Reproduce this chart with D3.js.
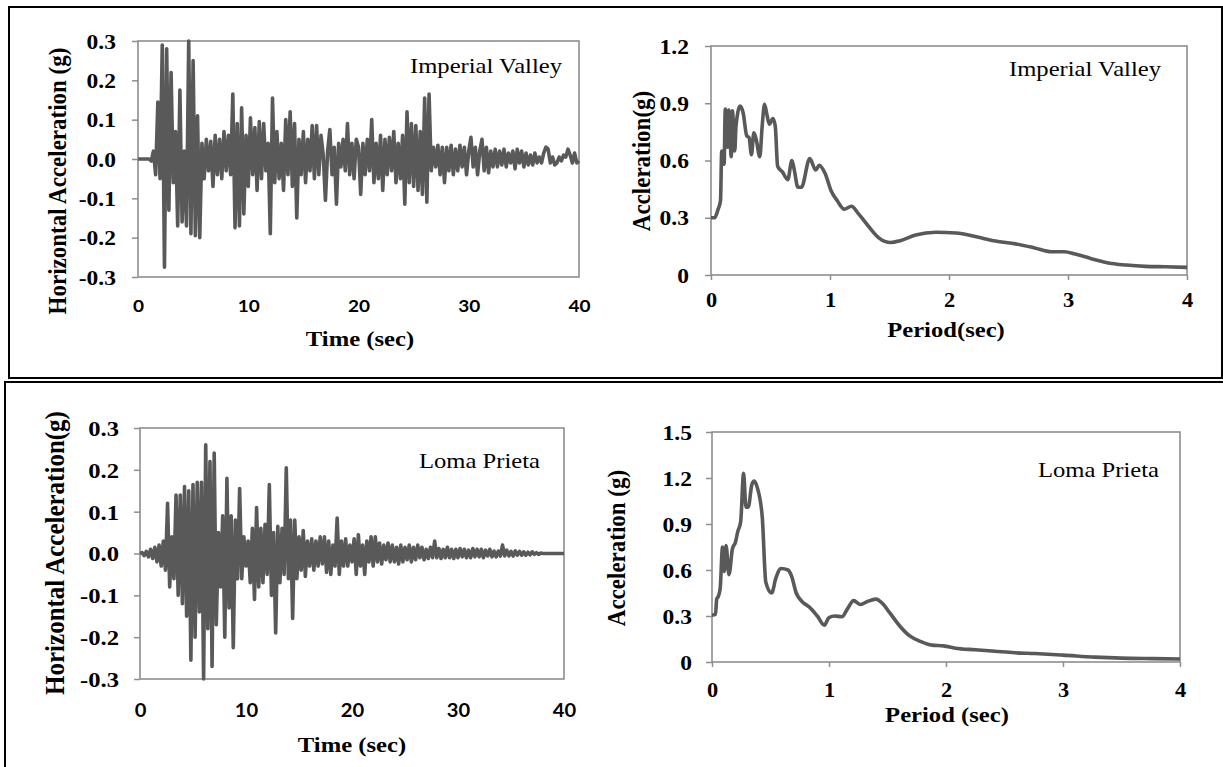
<!DOCTYPE html>
<html>
<head>
<meta charset="utf-8">
<script src="https://cdn.jsdelivr.net/npm/d3@7"></script>
<style>
  body { margin: 0; background: #fff; }
  svg { display: block; }
</style>
</head>
<body>
<svg id="chart" width="1223" height="767"></svg>
<script>
// sampling step of both ground motion records (sec)
const recordStep = 0.2;

// Imperial Valley horizontal acceleration (g), one value per recordStep
const imperialAcc = [
  0, 0, 0, 0, 0, 0, -0.005, 0.02, -0.04, 0.145,
  -0.05, 0.29, -0.275, 0.28, -0.13, 0.22, -0.06, 0.07, -0.17, 0.175,
  -0.16, 0.02, -0.17, 0.30, -0.19, 0.25, -0.195, 0.11, -0.20, 0.04,
  -0.05, 0.05, -0.03, 0.045, -0.07, 0.06, -0.04, 0.05, -0.05, 0.07,
  -0.03, 0.06, -0.04, 0.165, -0.175, 0.09, -0.17, 0.13, -0.14, 0.06,
  -0.07, 0.105, -0.04, 0.08, -0.08, 0.095, -0.05, 0.09, -0.03, 0.04,
  -0.19, 0.155, -0.06, 0.07, -0.05, 0.04, -0.08, 0.10, -0.04, 0.12,
  -0.07, 0.09, -0.15, 0.05, -0.04, 0.07, -0.06, 0.05, -0.03, 0.085,
  -0.05, 0.085, -0.04, 0.06, 0.01, -0.105, 0.02, 0.075, -0.04, 0.03,
  -0.115, 0.04, -0.02, 0.05, -0.03, 0.09, -0.04, 0.04, -0.05, 0.05,
  0.03, -0.09, 0.04, -0.04, 0.05, -0.03, 0.10, -0.06, 0.04, -0.05,
  0.06, -0.08, 0.05, -0.04, 0.055, -0.03, 0.07, -0.06, 0.04, -0.05,
  0.06, -0.115, 0.12, -0.06, 0.09, -0.07, 0.085, -0.08, 0.07, -0.09,
  0.155, -0.11, 0.165, -0.03, 0.03, -0.02, 0.035, -0.04, 0.03, -0.06,
  0.03, -0.03, 0.035, -0.04, 0.025, -0.03, 0.035, -0.02, 0.03, -0.04,
  0.02, 0.055, -0.02, 0.03, -0.04, 0.02, 0.05, -0.03, 0.03, -0.035,
  0.02, -0.02, 0.025, -0.02, 0.02, -0.015, 0.025, -0.02, 0.015, -0.01,
  0.02, -0.025, 0.025, -0.01, 0.02, -0.02, 0.015, -0.015, 0.01, -0.015,
  0.015, -0.01, 0.005, -0.01, 0.015, 0.03, 0.025, -0.01, 0.005, -0.015,
  -0.01, 0.005, -0.005, 0.01, 0.005, 0.025, 0.01, -0.01, 0.015, -0.01,
  -0.005
];

// Loma Prieta horizontal acceleration (g), one value per recordStep
const lomaAcc = [
  0, 0.002, -0.005, 0.005, -0.008, 0.01, -0.012, 0.015, -0.02, 0.02,
  -0.03, 0.03, -0.04, 0.12, -0.08, 0.04, -0.06, 0.14, -0.1, 0.14,
  -0.12, 0.16, -0.15, 0.15, -0.255, 0.165, -0.2, 0.17, -0.14, 0.17,
  -0.30, 0.26, -0.18, 0.22, -0.27, 0.24, -0.17, 0.05, -0.08, 0.09,
  -0.2, 0.18, -0.13, 0.09, -0.225, 0.08, -0.06, 0.155, -0.06, 0.04,
  -0.03, 0.03, -0.07, 0.06, -0.11, 0.11, -0.08, 0.06, -0.07, 0.07,
  -0.05, 0.165, -0.1, 0.05, -0.19, 0.065, -0.07, 0.06, -0.05, 0.205,
  -0.06, 0.08, -0.155, 0.08, -0.06, 0.04, -0.04, 0.055, -0.055, 0.03,
  -0.03, 0.035, -0.04, 0.03, -0.03, 0.04, -0.025, 0.04, -0.045, 0.03,
  -0.05, 0.02, -0.03, 0.085, -0.05, 0.03, -0.03, 0.035, -0.03, 0.02,
  -0.02, 0.035, -0.05, 0.045, -0.03, 0.02, -0.05, 0.03, -0.02, 0.04,
  -0.03, 0.04, -0.02, 0.025, -0.025, 0.02, -0.015, 0.025, -0.02, 0.02,
  -0.02, 0.015, -0.025, 0.02, -0.02, 0.015, -0.015, 0.02, -0.02, 0.015,
  -0.015, 0.02, -0.01, 0.015, -0.015, 0.01, -0.012, 0.015, -0.01, 0.03,
  -0.01, 0.012, -0.012, 0.01, -0.01, 0.015, -0.01, 0.01, -0.012, 0.01,
  -0.01, 0.012, -0.008, 0.01, -0.01, 0.008, -0.01, 0.012, -0.008, 0.01,
  -0.008, 0.01, -0.01, 0.008, -0.006, 0.01, -0.008, 0.006, -0.008, 0.006,
  -0.006, 0.02, -0.006, 0.008, -0.006, 0.005, -0.006, 0.006, -0.004, 0.005,
  -0.004, 0.004, -0.004, 0.003, -0.003, 0.004, -0.002, 0.002, -0.002, 0.001,
  0, 0, 0, 0, 0, 0, 0, 0, 0, 0,
  0
];

// response spectra: period (sec) and spectral acceleration (g)
const imperialPeriod = [
  0, 0.03, 0.06, 0.08, 0.09, 0.11, 0.12, 0.14, 0.15, 0.17,
  0.18, 0.2, 0.21, 0.245, 0.27, 0.3, 0.32, 0.34, 0.36, 0.38,
  0.41, 0.43, 0.45, 0.47, 0.49, 0.52, 0.54, 0.56, 0.6, 0.645,
  0.68, 0.7, 0.73, 0.76, 0.83, 0.88, 0.91, 0.96, 1.01, 1.06,
  1.12, 1.18, 1.24, 1.33, 1.41, 1.51, 1.59, 1.72, 1.89, 2.06,
  2.23, 2.39, 2.56, 2.72, 2.86, 2.97, 3.06, 3.19, 3.32, 3.49,
  3.65, 3.82, 4.0
];
const imperialSa = [
  0.30, 0.30, 0.345, 0.39, 0.65, 0.58, 0.87, 0.67, 0.865, 0.62,
  0.86, 0.65, 0.78, 0.885, 0.85, 0.73, 0.72, 0.63, 0.745, 0.71,
  0.62, 0.78, 0.895, 0.84, 0.79, 0.82, 0.78, 0.57, 0.54, 0.50,
  0.60, 0.55, 0.46, 0.46, 0.61, 0.55, 0.575, 0.53, 0.44, 0.39,
  0.345, 0.36, 0.32, 0.25, 0.195, 0.17, 0.18, 0.21, 0.224, 0.22,
  0.20, 0.178, 0.163, 0.142, 0.122, 0.122, 0.11, 0.087, 0.066, 0.052,
  0.045, 0.043, 0.04
];
const lomaPeriod = [
  0, 0.03, 0.04, 0.055, 0.07, 0.09, 0.105, 0.12, 0.145, 0.175,
  0.2, 0.22, 0.245, 0.27, 0.29, 0.31, 0.34, 0.36, 0.39, 0.43,
  0.46, 0.51, 0.545, 0.59, 0.65, 0.68, 0.72, 0.775, 0.83, 0.9,
  0.96, 1.0, 1.05, 1.11, 1.16, 1.21, 1.27, 1.33, 1.4, 1.46,
  1.52, 1.61, 1.69, 1.78, 1.88, 1.98, 2.08, 2.25, 2.42, 2.59,
  2.76, 3.0, 3.27, 3.5, 3.77, 4.0
];
const lomaSa = [
  0.305, 0.31, 0.41, 0.43, 0.48, 0.75, 0.59, 0.76, 0.57, 0.74,
  0.78, 0.85, 0.915, 1.23, 1.01, 1.01, 1.155, 1.18, 1.13, 0.94,
  0.52, 0.45, 0.545, 0.61, 0.60, 0.56, 0.45, 0.39, 0.36, 0.30,
  0.24, 0.29, 0.30, 0.295, 0.35, 0.40, 0.375, 0.395, 0.41, 0.38,
  0.32, 0.23, 0.17, 0.135, 0.11, 0.105, 0.09, 0.08, 0.07, 0.06,
  0.055, 0.045, 0.032, 0.025, 0.022, 0.02
];

// tick values
const timeTicks = [0, 10, 20, 30, 40];
const accTicks = [-0.3, -0.2, -0.1, 0, 0.1, 0.2, 0.3];
const periodTicks = [0, 1, 2, 3, 4];
const imperialSaTicks = [0, 0.3, 0.6, 0.9, 1.2];
const lomaSaTicks = [0, 0.3, 0.6, 0.9, 1.2, 1.5];

const serif = "'Liberation Serif', 'Times New Roman', serif";
const sans = "Lato, 'Open Sans', sans-serif";
const lineColor = "#595959";
const frameColor = "#8e8e8e";
// the source picture is a bit wider than tall, so glyphs are stretched sideways
const textStretch = 1.12;

const svg = d3.select("#chart");

/**
 * text that gets the same sideways stretch as the source picture
 */
function addText(str, x, y, opts) {
  svg
    .append("g")
    .attr("transform", `translate(${x},${y})${opts.rotate ? " rotate(-90)" : ""}`)
    .append("text")
    .attr("text-anchor", opts.anchor || "middle")
    .attr("transform", opts.rotate ? `scale(1,${textStretch})` : `scale(${textStretch},1)`)
    .style("font-family", opts.family || serif)
    .style("font-size", `${opts.size}px`)
    .style("font-weight", opts.weight || "bold")
    .style("fill", "#000")
    .text(str);
}

/**
 * one chart: frame, axes, trace and labels
 */
function drawPanel(p) {
  const x = d3.scaleLinear().domain(p.xDomain).range([p.box.left, p.box.right]);
  const y = d3.scaleLinear().domain(p.yDomain).range([p.box.bottom, p.box.top]);

  // plot frame
  svg
    .append("rect")
    .attr("x", p.box.left)
    .attr("y", p.box.top)
    .attr("width", p.box.right - p.box.left)
    .attr("height", p.box.bottom - p.box.top)
    .attr("fill", "none")
    .attr("stroke", frameColor)
    .attr("stroke-width", 1.6);

  svg
    .append("g")
    .attr("transform", `translate(${p.box.left},0)`)
    .call(d3.axisLeft(y).tickValues(p.yTicks).tickSize(6).tickFormat(p.yFormat))
    .call(a => a.select(".domain").remove())
    .call(a => a.selectAll("line").attr("stroke", frameColor).attr("stroke-width", 1.5))
    .call(a =>
      a
        .selectAll("text")
        .attr("x", -p.yGap / textStretch)
        .attr("dy", "0.34em")
        .attr("transform", `scale(${textStretch},1)`)
        .style("font-family", serif)
        .style("font-size", `${p.yTickSize}px`)
        .style("font-weight", "bold")
        .style("fill", "#000")
    );

  svg
    .append("g")
    .attr("transform", `translate(0,${p.box.bottom})`)
    .call(d3.axisBottom(x).tickValues(p.xTicks).tickSize(p.xTickLen).tickFormat(d3.format("d")))
    .call(a => a.select(".domain").remove())
    .call(a => a.selectAll("line").attr("stroke", frameColor).attr("stroke-width", 1.5))
    .call(a =>
      a
        .selectAll("text")
        .attr("y", p.xLabelY)
        .attr("dy", 0)
        .attr("transform", `scale(${textStretch},1)`)
        .style("font-family", p.xFont)
        .style("font-size", `${p.xTickSize}px`)
        .style("font-weight", "bold")
        .style("fill", "#000")
    );

  const line = d3
    .line()
    .x(d => x(d[0]))
    .y(d => y(d[1]))
    .curve(p.curve || d3.curveLinear);

  svg
    .append("path")
    .datum(p.data)
    .attr("d", line)
    .attr("fill", "none")
    .attr("stroke", lineColor)
    .attr("stroke-width", p.strokeWidth)
    .attr("stroke-linejoin", "round");

  addText(p.name, p.nameX, p.nameY, { anchor: "end", size: 22, weight: "normal" });
  addText(p.xTitle, p.xTitleX, p.xTitleY, { size: 22 });
  addText(p.yTitle, p.yTitleX, p.yTitleY, { size: p.yTitleSize, rotate: true });
}

const accFormat = d => d.toFixed(1);
const saFormat = d => (d === 0 ? "0" : d.toFixed(1));
const toRecord = acc => acc.map((a, i) => [i * recordStep, a]);
const toSpectrum = (period, sa) => period.map((t, i) => [t, sa[i]]);

// outer frames
svg
  .append("rect")
  .attr("x", 9)
  .attr("y", 7)
  .attr("width", 1213)
  .attr("height", 371)
  .attr("fill", "none")
  .attr("stroke", "#000")
  .attr("stroke-width", 2);
svg
  .append("path")
  .attr("d", "M5,770V382H1226")
  .attr("fill", "none")
  .attr("stroke", "#000")
  .attr("stroke-width", 2);

drawPanel({
  box: { left: 138, right: 579, top: 41, bottom: 277 },
  xDomain: [0, 40],
  yDomain: [-0.3, 0.3],
  xTicks: timeTicks,
  yTicks: accTicks,
  yFormat: accFormat,
  yGap: 22,
  yTickSize: 21,
  xTickLen: 0,
  xLabelY: 35,
  xFont: sans,
  xTickSize: 17,
  data: toRecord(imperialAcc),
  strokeWidth: 3.6,
  name: "Imperial Valley",
  nameX: 562,
  nameY: 73,
  xTitle: "Time (sec)",
  xTitleX: 360,
  xTitleY: 346,
  yTitle: "Horizontal Acceleration (g)",
  yTitleX: 66,
  yTitleY: 181,
  yTitleSize: 23
});

drawPanel({
  box: { left: 711, right: 1187, top: 46, bottom: 275 },
  xDomain: [0, 4],
  yDomain: [0, 1.2],
  xTicks: periodTicks,
  yTicks: imperialSaTicks,
  yFormat: saFormat,
  yGap: 22,
  yTickSize: 21,
  xTickLen: 5,
  xLabelY: 32,
  xFont: serif,
  xTickSize: 20,
  data: toSpectrum(imperialPeriod, imperialSa),
  curve: d3.curveMonotoneX,
  strokeWidth: 3.6,
  name: "Imperial Valley",
  nameX: 1161,
  nameY: 76,
  xTitle: "Period(sec)",
  xTitleX: 946,
  xTitleY: 337,
  yTitle: "Accleration(g)",
  yTitleX: 650,
  yTitleY: 161,
  yTitleSize: 23
});

drawPanel({
  box: { left: 140, right: 564, top: 428, bottom: 679 },
  xDomain: [0, 40],
  yDomain: [-0.3, 0.3],
  xTicks: timeTicks,
  yTicks: accTicks,
  yFormat: accFormat,
  yGap: 21,
  yTickSize: 22,
  xTickLen: 0,
  xLabelY: 38,
  xFont: sans,
  xTickSize: 18,
  data: toRecord(lomaAcc),
  strokeWidth: 3.6,
  name: "Loma Prieta",
  nameX: 540,
  nameY: 468,
  xTitle: "Time (sec)",
  xTitleX: 352,
  xTitleY: 752,
  yTitle: "Horizontal Acceleration(g)",
  yTitleX: 64,
  yTitleY: 553,
  yTitleSize: 25
});

drawPanel({
  box: { left: 712, right: 1180, top: 432, bottom: 662 },
  xDomain: [0, 4],
  yDomain: [0, 1.5],
  xTicks: periodTicks,
  yTicks: lomaSaTicks,
  yFormat: saFormat,
  yGap: 20,
  yTickSize: 21,
  xTickLen: 5,
  xLabelY: 35,
  xFont: serif,
  xTickSize: 20,
  data: toSpectrum(lomaPeriod, lomaSa),
  curve: d3.curveMonotoneX,
  strokeWidth: 3.6,
  name: "Loma Prieta",
  nameX: 1159,
  nameY: 477,
  xTitle: "Period (sec)",
  xTitleX: 947,
  xTitleY: 722,
  yTitle: "Acceleration (g)",
  yTitleX: 625,
  yTitleY: 548,
  yTitleSize: 23
});
</script>
</body>
</html>
